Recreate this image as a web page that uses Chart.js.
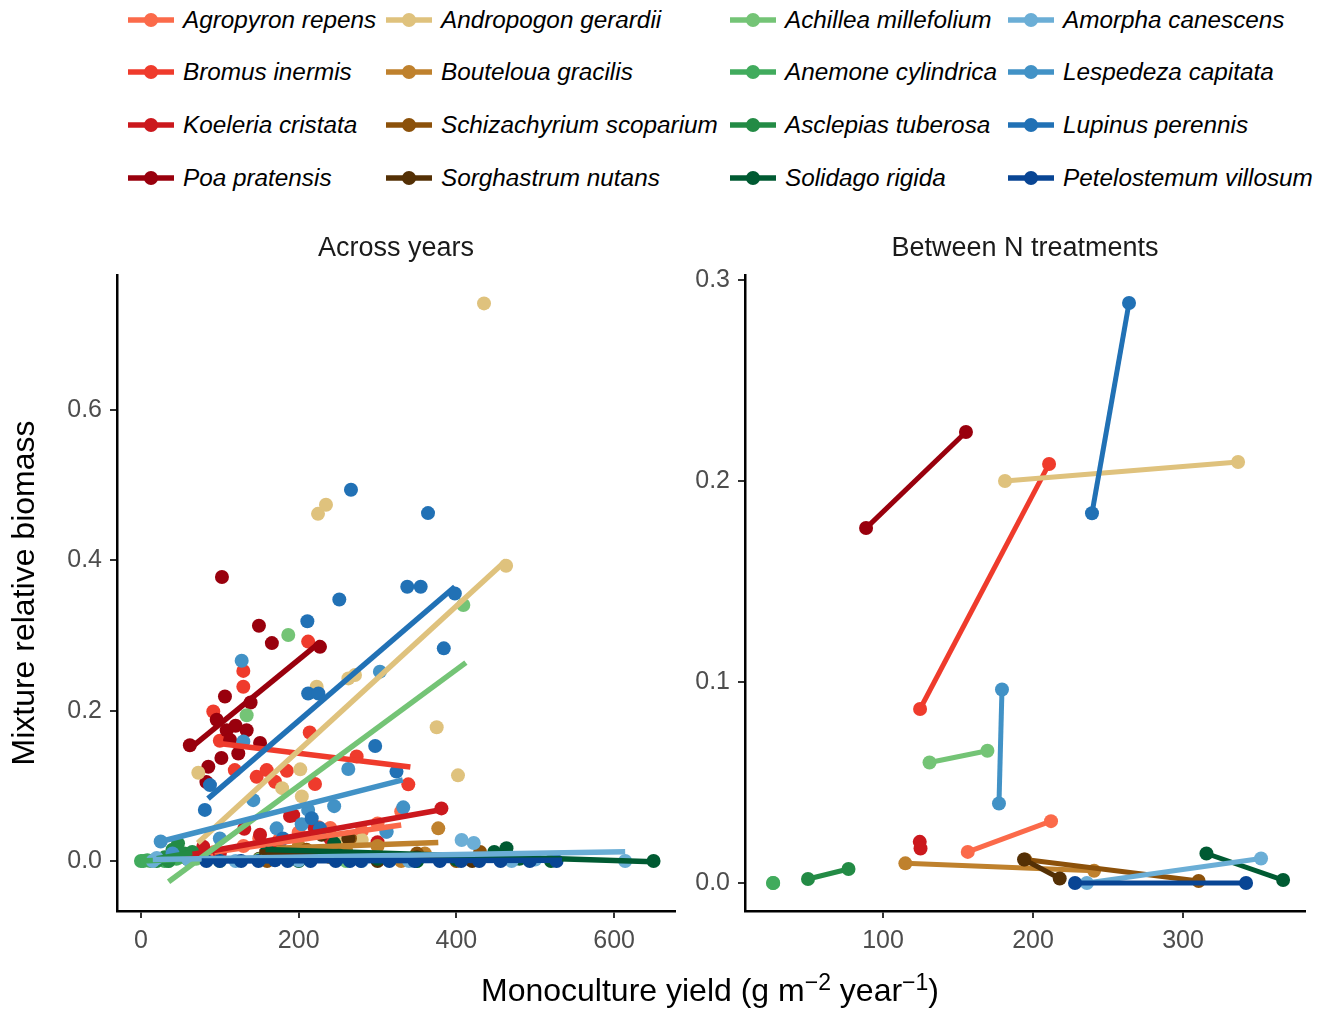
<!DOCTYPE html>
<html><head><meta charset="utf-8">
<script src="https://cdn.jsdelivr.net/npm/chart.js@4.4.1/dist/chart.umd.min.js"></script>
<style>
body{margin:0;background:#fff;width:1331px;height:1010px;position:relative;overflow:hidden;font-family:"Liberation Sans",Arial,sans-serif;}
#cL{position:absolute;left:0;top:230px;}
#cR{position:absolute;left:690px;top:230px;}
.leg{position:absolute;display:flex;align-items:center;height:30px;font-style:italic;font-size:24.3px;color:#000;white-space:nowrap;}
.leg svg{margin-right:9px;flex:none;}
#xt{position:absolute;top:972px;left:210px;width:1000px;text-align:center;font-size:32px;line-height:36px;color:#000;}
#xt sup{font-size:23px;vertical-align:0.5em;line-height:0;}
</style></head>
<body>
<div id="legend"></div>
<canvas id="cL" width="690" height="780"></canvas>
<canvas id="cR" width="641" height="780"></canvas>
<div id="xt">Monoculture yield (g m<sup>−2</sup> year<sup>−1</sup>)</div>
<script>
// ---------- categories ----------
const species = ["Agropyron repens","Bromus inermis","Koeleria cristata","Poa pratensis",
  "Andropogon gerardii","Bouteloua gracilis","Schizachyrium scoparium","Sorghastrum nutans",
  "Achillea millefolium","Anemone cylindrica","Asclepias tuberosa","Solidago rigida",
  "Amorpha canescens","Lespedeza capitata","Lupinus perennis","Petelostemum villosum"];
const colors = ["#FB6A4A","#EF3B2C","#CB181D","#99000D",
  "#DFC27D","#BF812D","#8C510A","#543005",
  "#74C476","#41AB5D","#238B45","#005A32",
  "#6BAED6","#4292C6","#2171B5","#084594"];

// ---------- tick labels ----------
const leftXTicks = [0,200,400,600];
const leftYTicks = [0,0.2,0.4,0.6];
const rightXTicks = [100,200,300];
const rightYTicks = [0,0.1,0.2,0.3];

// ---------- "Across years": points [x, y] ----------
const yrs_Agropyron = [[93,0.012],[130,0.02],[150,0.03],[175,0.028],[200,0.038],[225,0.045],[240,0.044],[262,0.025],[280,0.04],[300,0.05],[330,0.066]];
const yrs_Bromus = [[91.7,0.199],[100,0.16],[119,0.121],[129.8,0.253],[129.8,0.232],[146.7,0.112],[159.4,0.121],[170,0.1055],[185,0.12],[212,0.292],[214,0.171],[220.7,0.1025],[273.5,0.139],[339,0.102]];
const yrs_Koeleria = [[50,0.005],[79,0.019],[100,0.01],[131,0.043],[151,0.035],[175,0.02],[189,0.06],[193,0.061],[220,0.045],[240,0.03],[300,0.025],[381,0.070]];
const yrs_Poa = [[62,0.154],[83,0.105],[85.4,0.1255],[96,0.188],[102,0.137],[102.7,0.378],[106.5,0.219],[108.7,0.174],[113,0.161],[120,0.18],[123.4,0.143],[134,0.174],[139,0.211],[149.6,0.313],[151,0.157],[166,0.290],[227,0.285]];
const yrs_Andropogon = [[72.7,0.1175],[179,0.097],[202,0.122],[204,0.086],[222.8,0.232],[224.5,0.462],[234.6,0.474],[250,0.03],[263,0.243],[271.4,0.2475],[280,0.028],[375,0.178],[402,0.114],[435,0.742],[463,0.393]];
const yrs_Bouteloua = [[172,0.01],[200,0.02],[240,0.005],[260,0.015],[300,0.02],[330,0.0],[360,0.01],[377,0.0435]];
const yrs_Schizachyrium = [[160,0.0],[180,0.01],[210,0.015],[265,0.03],[300,0.005],[350,0.01],[400,0.0],[430,0.012]];
const yrs_Sorghastrum = [[150,0.003],[200,0.01],[229,0.035],[263,0.03],[300,0.0],[350,0.005],[420,0.0]];
const yrs_Achillea = [[35,0.0],[50,0.005],[70,0.003],[100,0.0],[134,0.194],[150,0.002],[186.8,0.3007],[200,0.01],[260,0.0],[300,0.005],[350,0.0],[408.8,0.3406]];
const yrs_Anemone = [[0,0],[3,0],[8,0.001],[12,0],[18,0.002],[30,0],[45,0.003]];
const yrs_Asclepias = [[20,0],[30,0.005],[35,0],[40,0.015],[47,0.0235],[55,0.01],[60,0.002],[65,0.012]];
const yrs_Solidago = [[160,0.015],[200,0],[245,0.0235],[250,0.008],[300,0.003],[350,0],[400,0.002],[448,0.012],[463.5,0.017],[480,0.003],[520,0],[650,0]];
const yrs_Amorpha = [[15,0],[20,0.004],[60,0.002],[120,0],[200,0.001],[280,0],[311,0.039],[340,0],[406.6,0.028],[422,0.024],[470,0],[500,0.002],[614,0]];
const yrs_Lespedeza = [[25,0.026],[40,0.01],[100,0.03],[127.7,0.2665],[129.8,0.159],[142.4,0.081],[172,0.0435],[203.8,0.049],[212,0.068],[245,0.073],[262.9,0.1225],[303,0.252],[311.6,0.039],[332.6,0.0714]];
const yrs_Lupinus = [[81,0.068],[87.5,0.101],[180,0.03],[211,0.319],[212,0.223],[216.5,0.057],[225,0.223],[227,0.0435],[251.5,0.348],[266.3,0.494],[297,0.153],[324,0.119],[337.7,0.365],[354.7,0.365],[364,0.463],[384,0.283],[398,0.356]];
const yrs_Petelostemum = [[83,0],[100,0],[127,0],[149,0],[170,0.001],[186,0],[215,0],[247,0],[265,0],[279,0],[315,0],[347,0],[379,0],[406,0],[429,0],[456,0],[493,0],[527,0]];

// ---------- "Across years": fitted lines [x0, y0, x1, y1] ----------
const fit_Agropyron = [93,0.012,330,0.048];
const fit_Bromus = [94,0.157,341.6,0.125];
const fit_Koeleria = [50,0.006,384,0.069];
const fit_Poa = [60,0.148,228,0.292];
const fit_Andropogon = [72,0.024,463,0.400];
const fit_Bouteloua = [172,0.017,377,0.0245];
const fit_Schizachyrium = [160,0.009,430,0.007];
const fit_Sorghastrum = [150,0.012,420,0.006];
const fit_Achillea = [35,-0.0275,412,0.264];
const fit_Anemone = [0,0.0,45,0.002];
const fit_Asclepias = [20,0.003,65,0.011];
const fit_Solidago = [158,0.0155,650,-0.001];
const fit_Amorpha = [15,0.002,614,0.0125];
const fit_Lespedeza = [25,0.026,332,0.108];
const fit_Lupinus = [85,0.083,398,0.365];
const fit_Petelostemum = [77,0.0,534,0.001];

// ---------- "Between N treatments": two points [x, y] ----------
const nt_Agropyron = [[156.5,0.0155],[212,0.0308]];
const nt_Bromus = [[124.7,0.0866],[210.7,0.2085]];
const nt_Koeleria = [[124.5,0.0205],[125,0.0172]];
const nt_Poa = [[88.7,0.1766],[155.3,0.2244]];
const nt_Andropogon = [[181.3,0.200],[336.7,0.2095]];
const nt_Bouteloua = [[114.9,0.0098],[240.7,0.0061]];
const nt_Schizachyrium = [[194.7,0.0117],[310.4,0.0010]];
const nt_Sorghastrum = [[194,0.0117],[217.8,0.0023]];
const nt_Achillea = [[131,0.060],[169.6,0.0658]];
const nt_Anemone = [[26.7,0.0],[26.8,0.0]];
const nt_Asclepias = [[50,0.002],[77,0.007]];
const nt_Solidago = [[315.6,0.0147],[366.7,0.0015]];
const nt_Amorpha = [[235.9,0.0],[352,0.0122]];
const nt_Lespedeza = [[177.3,0.0396],[179.3,0.0963]];
const nt_Lupinus = [[239.3,0.184],[264,0.2886]];
const nt_Petelostemum = [[228,0.0],[342,0.0]];

const yearsPoints = [yrs_Agropyron,yrs_Bromus,yrs_Koeleria,yrs_Poa,yrs_Andropogon,yrs_Bouteloua,yrs_Schizachyrium,yrs_Sorghastrum,yrs_Achillea,yrs_Anemone,yrs_Asclepias,yrs_Solidago,yrs_Amorpha,yrs_Lespedeza,yrs_Lupinus,yrs_Petelostemum];
const yearsFits = [fit_Agropyron,fit_Bromus,fit_Koeleria,fit_Poa,fit_Andropogon,fit_Bouteloua,fit_Schizachyrium,fit_Sorghastrum,fit_Achillea,fit_Anemone,fit_Asclepias,fit_Solidago,fit_Amorpha,fit_Lespedeza,fit_Lupinus,fit_Petelostemum];
const nPairs = [nt_Agropyron,nt_Bromus,nt_Koeleria,nt_Poa,nt_Andropogon,nt_Bouteloua,nt_Schizachyrium,nt_Sorghastrum,nt_Achillea,nt_Anemone,nt_Asclepias,nt_Solidago,nt_Amorpha,nt_Lespedeza,nt_Lupinus,nt_Petelostemum];

// ---------- legend (HTML) ----------
const legendColX = [128,386,730,1008];
const legendRowY = [20,72,125,178];
const legEl = document.getElementById('legend');
species.forEach((name,i)=>{
  const d = document.createElement('div');
  d.className = 'leg';
  d.style.left = legendColX[Math.floor(i/4)] + 'px';
  d.style.top = (legendRowY[i%4] - 15) + 'px';
  d.innerHTML = '<svg width="46" height="16"><line x1="0" y1="8" x2="46" y2="8" stroke="'+colors[i]+'" stroke-width="5.5"/><circle cx="23" cy="8" r="7" fill="'+colors[i]+'"/></svg><span></span>';
  d.querySelector('span').textContent = name;
  legEl.appendChild(d);
});

// ---------- charts ----------
const FONT = '"Liberation Sans", Arial, sans-serif';
Chart.defaults.font.family = FONT;

function axis(min,max,ticksArr,fmt,fitFn,title){
  const a = {
    type:'linear', min, max,
    afterBuildTicks: s => { s.ticks = ticksArr.map(v=>({value:v})); },
    afterFit: fitFn,
    ticks:{callback: v=>fmt(v), font:{size:25}, color:'#4D4D4D', padding:8, maxRotation:0, autoSkip:false},
    grid:{drawOnChartArea:false, drawTicks:true, tickLength:7, color:'#333333', lineWidth:2},
    border:{display:true, color:'#000000', width:2.5}
  };
  if (title) a.title = title;
  return a;
}

const R = 7;
const leftDatasets = [];
yearsPoints.forEach((pts,i)=>{
  leftDatasets.push({type:'scatter', data: pts.map(p=>({x:p[0],y:p[1]})), backgroundColor:colors[i], pointBackgroundColor:colors[i],
    pointBorderWidth:0, borderWidth:0, pointRadius:R, pointHoverRadius:R, showLine:false, order:1000-i});
});
yearsFits.forEach((f,i)=>{
  leftDatasets.push({type:'scatter', data:[{x:f[0],y:f[1]},{x:f[2],y:f[3]}], borderColor:colors[i], backgroundColor:colors[i],
    borderWidth:5.5, pointRadius:0, pointHoverRadius:0, showLine:true, fill:false, order:500-i});
});

new Chart(document.getElementById('cL'), {
  type:'scatter',
  data:{datasets:leftDatasets},
  options:{
    responsive:false, animation:false, devicePixelRatio:1,
    layout:{padding:{right:15, left:0, top:0, bottom:0}},
    plugins:{legend:{display:false}, tooltip:{enabled:false},
      title:{display:true, text:'Across years', fullSize:false, font:{size:27, weight:'normal'}, color:'#1A1A1A', padding:{top:2,bottom:10.6}}},
    scales:{
      x: axis(-30.4, 677.2, leftXTicks, v=>String(v), s=>{s.height=99;}),
      y: axis(-0.0665, 0.7798, leftYTicks, v=>v.toFixed(1), s=>{s.width=117;},
        {display:true, text:'Mixture relative biomass', font:{size:32}, color:'#000', padding:{top:6,bottom:0}})
    }
  }
});

const rightDatasets = nPairs.map((pts,i)=>({
  type:'scatter', data: pts.map(p=>({x:p[0],y:p[1]})), borderColor:colors[i], backgroundColor:colors[i], pointBackgroundColor:colors[i],
  borderWidth:5, pointBorderWidth:0, pointRadius:R, pointHoverRadius:R, showLine:true, fill:false, order:100-i
}));

new Chart(document.getElementById('cR'), {
  type:'scatter',
  data:{datasets:rightDatasets},
  options:{
    responsive:false, animation:false, devicePixelRatio:1,
    layout:{padding:{right:26, left:0, top:0, bottom:0}},
    plugins:{legend:{display:false}, tooltip:{enabled:false},
      title:{display:true, text:'Between N treatments', fullSize:false, font:{size:27, weight:'normal'}, color:'#1A1A1A', padding:{top:2,bottom:10.6}}},
    scales:{
      x: axis(8, 381.3, rightXTicks, v=>String(v), s=>{s.height=99;}),
      y: axis(-0.0139, 0.3025, rightYTicks, v=>v.toFixed(1), s=>{s.width=55;})
    }
  }
});
</script>
</body></html>
